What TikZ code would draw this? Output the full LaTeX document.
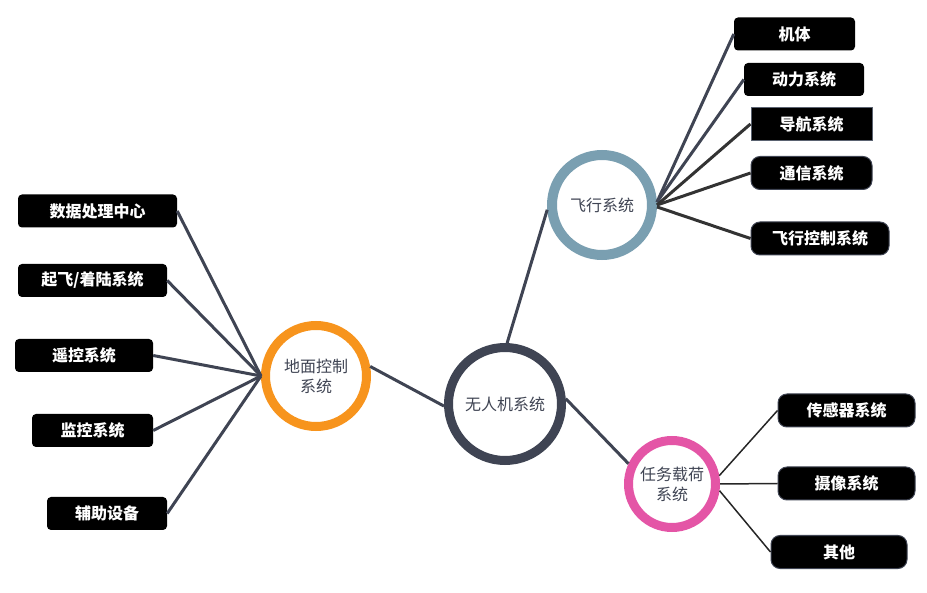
\documentclass[tikz,border=0pt]{standalone}
\usepackage{fontspec}
\newfontfamily\cjk{Noto Sans CJK SC}
\definecolor{slate}{HTML}{3F4453}
\definecolor{ringorange}{HTML}{F7941D}
\definecolor{ringblue}{HTML}{7A9FB1}
\definecolor{ringpink}{HTML}{E455A6}
\definecolor{edge}{HTML}{5A6270}

\begin{document}
\begin{tikzpicture}[
  x=1pt,y=-1pt,
  font=\cjk\fontsize{16}{20}\selectfont,
  hub/.style={circle,line width=9pt,fill=white,text=slate,align=center,inner sep=0pt},
  leaf/.style={fill=black,text=white,font=\cjk\bfseries\fontsize{16}{20}\selectfont,rounded corners=4pt,minimum height=33pt,inner sep=0pt},
  leafsq/.style={leaf,rounded corners=0pt,draw=edge,line width=1pt},
  leafrd/.style={leaf,rounded corners=9pt,draw=slate,line width=1pt},
  lnk/.style={draw=slate,line width=3pt},
  lnkdark/.style={draw=black!80,line width=3pt},
  lnkthin/.style={draw=black!85,line width=1.5pt},
]
\useasboundingbox (0,0) rectangle (927,593);

\node[hub,draw=slate,minimum size=113pt] (uav) at (505,404) {无人机系统};
\node[hub,draw=ringorange,minimum size=101pt] (ground) at (316,376) {地面控制\\系统};
\node[hub,draw=ringblue,line width=10pt,minimum size=100pt] (flight) at (602,205) {飞行系统};
\node[hub,draw=ringpink,minimum size=87pt] (task) at (672,484) {任务载荷\\系统};

\node[leaf,minimum width=121pt] (body) at (794.5,34) {机体};
\node[leaf,minimum width=120pt] (power) at (804,79.5) {动力系统};
\node[leafsq,minimum width=121pt] (nav) at (811.5,124) {导航系统};
\node[leafrd,minimum width=121pt] (comm) at (811.5,173) {通信系统};
\node[leafrd,minimum width=138pt] (fctrl) at (820,238.5) {飞行控制系统};

\node[leaf,minimum width=159pt] (data) at (97.5,211) {数据处理中心};
\node[leaf,minimum width=149pt] (land) at (92.5,280.5) {起飞/着陆系统};
\node[leaf,minimum width=138pt] (remote) at (84,355.5) {遥控系统};
\node[leaf,minimum width=121pt] (monitor) at (92.5,430.5) {监控系统};
\node[leaf,minimum width=120pt] (aux) at (107,513.5) {辅助设备};

\node[leafrd,minimum width=137pt] (sensor) at (846.5,410.5) {传感器系统};
\node[leafrd,minimum width=137pt] (camera) at (846.5,483.5) {摄像系统};
\node[leafrd,minimum width=136pt] (other) at (839,552) {其他};

\draw[lnk] (uav.182) -- (ground.10);
\draw[lnk] (uav.88) -- (flight.185);
\draw[lnk] (uav.5) -- (task.155);

\draw[lnk] (flight.3) -- (body.west);
\draw[lnk] (flight.3) -- (power.west);
\draw[lnkdark] (flight.east) -- (nav.west);
\draw[lnkdark] (flight.east) -- (comm.west);
\draw[lnkdark] (flight.-2) -- (fctrl.west);

\draw[lnk] (ground.west) -- (data.east);
\draw[lnk] (ground.west) -- (land.east);
\draw[lnk] (ground.west) -- (remote.east);
\draw[lnk] (ground.west) -- (monitor.east);
\draw[lnk] (ground.west) -- (aux.east);

\draw[lnkthin] (task.10) -- (sensor.west);
\draw[lnkthin] (task.east) -- (camera.west);
\draw[lnkthin] (task.-8) -- (other.west);
\end{tikzpicture}
\end{document}
